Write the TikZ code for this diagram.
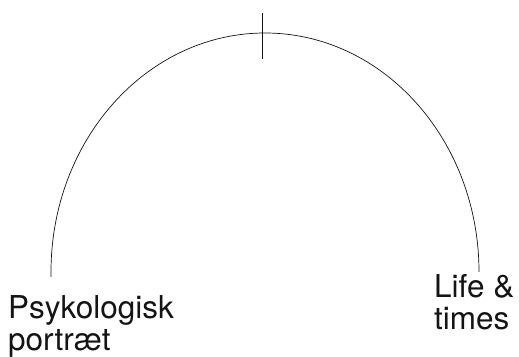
\documentclass[tikz,border=0pt]{standalone}
\usepackage{fontspec}
\setmainfont{TeX Gyre Heros}
\usepackage{xcolor}
\usepackage{tikz}
\usetikzlibrary{positioning}
\definecolor{Ink}{HTML}{141414}
\tikzset{
  arcline/.style={draw=Ink, line width=0.7pt},
  tickline/.style={draw=Ink, line width=0.9pt},
  endlabel/.style={anchor=north west, inner sep=0pt, align=left, text=Ink, font=\fontsize{31.5}{32.5}\selectfont},
}

\begin{document}
\begin{tikzpicture}[x=1pt,y=1pt]
\path[use as bounding box] (0,0) rectangle (519,356);

% the two ends
\node[endlabel] (psyk) at (8,61) {Psykologisk\\portræt};
\node[endlabel] (life) at (434,82) {Life \&\\times};

% arc between them, with the mark at the top
\coordinate (arcstart) at (51,79);
\coordinate (apex) at (265,323);
\draw[arcline] (arcstart) -- ++(0,5) arc[start angle=180, end angle=0, x radius=214, y radius=239];
\draw[tickline] (262,343) -- (262,297);
\end{tikzpicture}
\end{document}
